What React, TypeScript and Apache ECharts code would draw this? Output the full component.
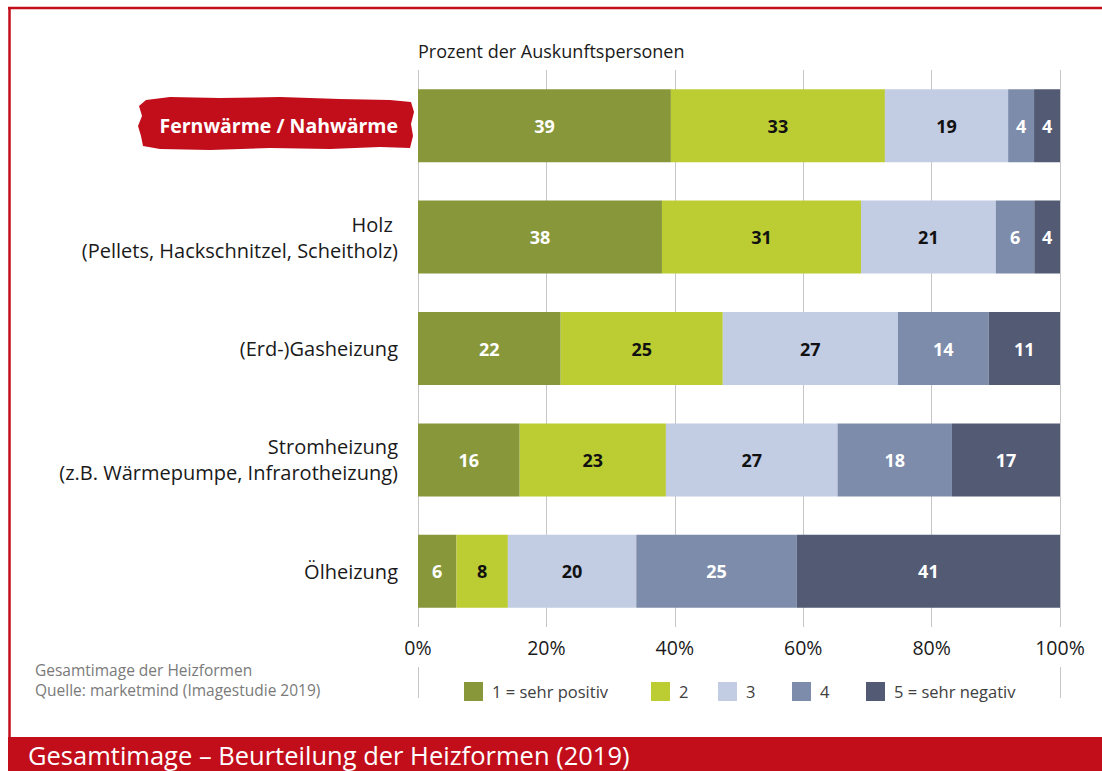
import React, { useEffect, useRef } from "react";
import * as echarts from "echarts";

const categories = [
  "Fernwärme / Nahwärme",
  "Holz \n(Pellets, Hackschnitzel, Scheitholz)",
  "(Erd-)Gasheizung",
  "Stromheizung\n(z.B. Wärmepumpe, Infrarotheizung)",
  "Ölheizung",
];
const seriesNames = ["1 = sehr positiv", "2", "3", "4", "5 = sehr negativ"];
const v1 = [39, 38, 22, 16, 6];
const v2 = [33, 31, 25, 23, 8];
const v3 = [19, 21, 27, 27, 20];
const v4 = [4, 6, 14, 18, 25];
const v5 = [4, 4, 11, 17, 41];
const xTicks = [0, 20, 40, 60, 80, 100];

const colors = ["#87973a", "#bccd33", "#c2cce3", "#7e8cab", "#525a74"];
const labelColors = ["#ffffff", "#111111", "#111111", "#ffffff", "#ffffff"];
const RED = "#c20e1b";
const FONT = "Open Sans";

export default function App() {
  const ref = useRef<HTMLDivElement>(null);
  useEffect(() => {
    if (!ref.current) return;
    const chart = echarts.init(ref.current, undefined, { renderer: "svg" });
    const all = [v1, v2, v3, v4, v5];
    const totals = categories.map((_, i) => all.reduce((s, a) => s + a[i], 0));
    const legendX = [464, 651, 718, 792, 866];

    chart.setOption({
      animation: false,
      textStyle: { fontFamily: FONT },
      grid: { left: 418, right: 42, top: 70, bottom: 144, containLabel: false },
      xAxis: {
        type: "value",
        min: xTicks[0],
        max: xTicks[xTicks.length - 1],
        interval: 20,
        axisLine: { show: false },
        axisTick: { show: false },
        splitLine: { show: true, lineStyle: { color: "#c6c6c6", width: 1 } },
        axisLabel: {
          formatter: (v: number) => v + "%",
          color: "#1a1a1a",
          fontSize: 19.5,
          fontFamily: FONT,
          margin: 10,
        },
      },
      yAxis: {
        type: "category",
        inverse: true,
        data: categories,
        axisLine: { show: false },
        axisTick: { show: false },
        axisLabel: {
          color: "#1a1a1a",
          fontSize: 20,
          fontFamily: FONT,
          lineHeight: 26,
          margin: 20,
          align: "right",
          formatter: (v: string, i: number) => (i === 0 ? `{hl|${v}}` : v),
          rich: {
            hl: { color: "#ffffff", fontWeight: "bold", fontSize: 19.5, fontFamily: FONT },
          },
        },
      },
      legend: seriesNames.map((n, i) => ({
        data: [n],
        left: legendX[i],
        top: 682,
        itemWidth: 19,
        itemHeight: 19,
        icon: "rect",
        itemGap: 0,
        textStyle: { color: "#404040", fontSize: 16.5, fontFamily: FONT, padding: [0, 0, 0, 4] },
        padding: 0,
        selectedMode: false,
      })),
      series: all.map((arr, si) => ({
        name: seriesNames[si],
        type: "bar",
        stack: "total",
        barWidth: 73,
        itemStyle: { color: colors[si] },
        label: {
          show: true,
          position: "inside",
          color: labelColors[si],
          fontSize: 18,
          fontWeight: "bold",
          fontFamily: FONT,
          formatter: (p: any) => String(arr[p.dataIndex]),
        },
        data: arr.map((v, i) => (v / totals[i]) * 100),
      })),
      graphic: [
        {
          type: "polygon",
          z: -10,
          shape: {
            points: [
              [146, 100], [170, 97], [220, 98], [280, 97], [340, 99], [390, 100], [411, 102],
              [414, 112], [411, 124], [413, 136], [410, 148], [380, 147], [330, 149],
              [270, 148], [210, 150], [160, 149], [143, 146], [141, 136], [138, 126],
              [142, 116], [139, 106],
            ],
          },
          style: { fill: RED },
        },
        {
          type: "text",
          left: 418,
          top: 42,
          style: { text: "Prozent der Auskunftspersonen", fill: "#1a1a1a", fontSize: 18, fontFamily: FONT },
        },
        { type: "line", shape: { x1: 418.5, y1: 667, x2: 418.5, y2: 698 }, style: { stroke: "#c6c6c6", lineWidth: 1 } },
        { type: "line", shape: { x1: 1060.5, y1: 667, x2: 1060.5, y2: 698 }, style: { stroke: "#c6c6c6", lineWidth: 1 } },
        {
          type: "text",
          left: 35,
          top: 662,
          style: { text: "Gesamtimage der Heizformen", fill: "#7a7a7a", fontSize: 15.5, fontFamily: FONT },
        },
        {
          type: "text",
          left: 35,
          top: 682,
          style: { text: "Quelle: marketmind (Imagestudie 2019)", fill: "#7a7a7a", fontSize: 15.5, fontFamily: FONT },
        },
        { type: "line", shape: { x1: 8, y1: 8, x2: 1102, y2: 8 }, style: { stroke: RED, lineWidth: 2.5 } },
        { type: "line", shape: { x1: 9.5, y1: 7, x2: 9.5, y2: 738 }, style: { stroke: RED, lineWidth: 2.5 } },
        { type: "rect", shape: { x: 8, y: 737, width: 1094, height: 34 }, style: { fill: RED } },
        {
          type: "text",
          left: 28,
          top: 742,
          style: {
            text: "Gesamtimage – Beurteilung der Heizformen (2019)",
            fill: "#ffffff",
            fontSize: 25.5,
            fontFamily: FONT,
          },
        },
      ],
    });
    return () => chart.dispose();
  }, []);
  return (
    <div
      ref={ref}
      style={{ position: "fixed", left: 0, top: 0, width: 1102, height: 771, background: "#ffffff" }}
    />
  );
}
